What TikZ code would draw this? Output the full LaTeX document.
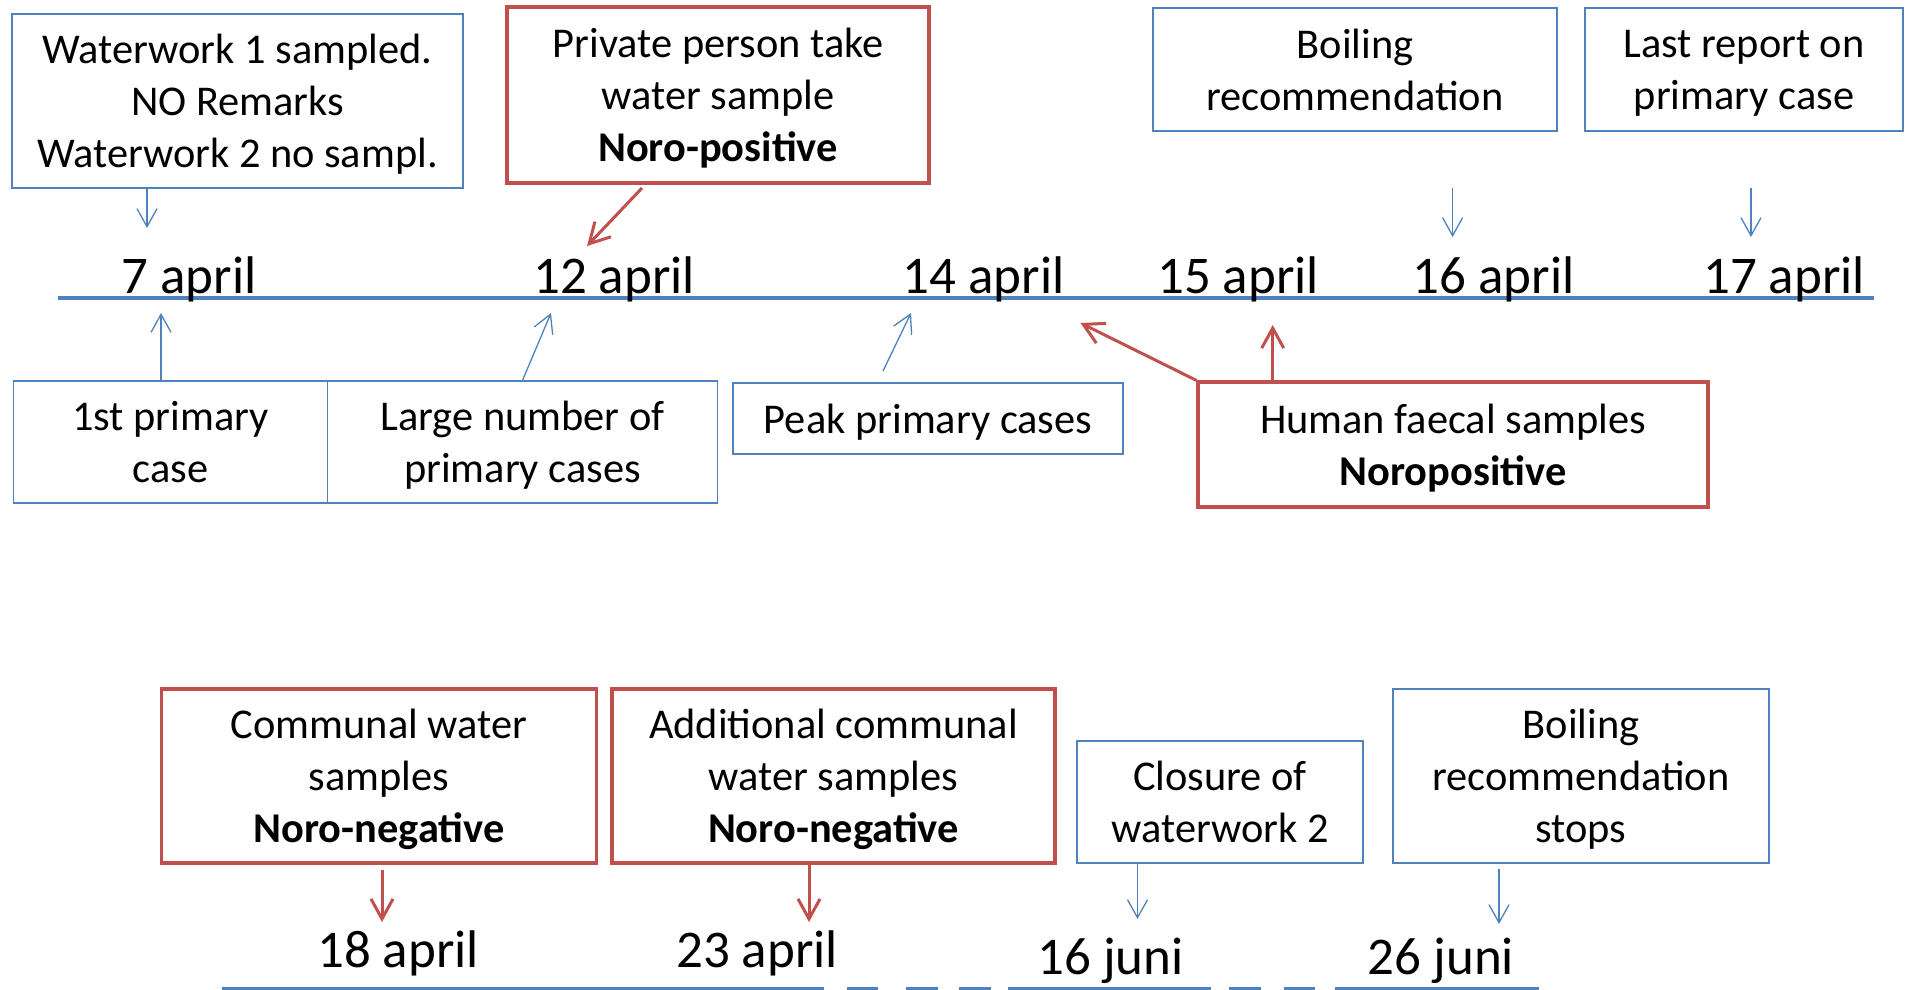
\documentclass[tikz,border=0pt]{standalone}
\usepackage{fontspec}
\setmainfont{Carlito}
\usetikzlibrary{arrows.meta,positioning}
\definecolor{tlblue}{HTML}{4F81BD}
\definecolor{tlred}{HTML}{C0504D}

\begin{document}
\begin{tikzpicture}[x=0.5pt,y=-0.5pt]
\tikzstyle{bluebox}=[draw=tlblue,line width=0.65pt,align=center,inner sep=0pt,text depth=0pt,font=\fontsize{21.2}{26}\selectfont]
\tikzstyle{redbox}=[bluebox,draw=tlred,line width=1.65pt]
\tikzstyle{datum}=[anchor=base,inner sep=0pt,font=\fontsize{26.5}{32}\selectfont]
\tikzstyle{barrow}=[draw=tlblue,line width=0.65pt,-{Straight Barb[length=9pt,width=10pt]}]
\tikzstyle{rarrow}=[draw=tlred,line width=1.5pt,-{Straight Barb[length=10pt,width=11pt]}]
\tikzstyle{tline}=[draw=tlblue,line width=1.75pt]
\useasboundingbox (0,0) rectangle (1906,990);
% timelines
\draw[tline] (58,298) -- (1873.5,298);
\foreach \a/\b in {222/824,847/878,906/938,959/991,1008/1211,1229/1261,1284/1315,1335/1539}
  \draw[tline] (\a,989) -- (\b,989);
% event boxes
\node[bluebox,minimum width=225.5pt,minimum height=87pt] (ww) at (237.5,101) {Waterwork 1 sampled.\\NO Remarks\\Waterwork 2 no sampl.};
\node[redbox,minimum width=211pt,minimum height=88pt] (priv) at (718,95) {Private person take\\water sample\\\textbf{Noro-positive}};
\node[bluebox,minimum width=202pt,minimum height=61.5pt] (boil) at (1355,69.5) {Boiling\\recommendation};
\node[bluebox,minimum width=159pt,minimum height=61.5pt] (last) at (1744,69.5) {Last report on\\primary case};
\node[bluebox,minimum width=157pt,minimum height=61pt] (first) at (170.5,442) {1st primary\\case};
\node[bluebox,minimum width=195pt,minimum height=61pt] (large) at (522.5,442) {Large number of\\primary cases};
\node[bluebox,minimum width=195pt,minimum height=35.5pt] (peak) at (928,418.5) {Peak primary cases};
\node[redbox,minimum width=255pt,minimum height=62.5pt] (human) at (1453,444.5) {Human faecal samples\\\textbf{Noropositive}};
\node[redbox,minimum width=217.5pt,minimum height=87pt] (comm) at (379,776) {Communal water\\samples\\\textbf{Noro-negative}};
\node[redbox,minimum width=221.5pt,minimum height=87pt] (addl) at (833.5,776) {Additional communal\\water samples\\\textbf{Noro-negative}};
\node[bluebox,minimum width=143pt,minimum height=61pt] (clos) at (1220,802) {Closure of\\waterwork 2};
\node[bluebox,minimum width=188pt,minimum height=87pt] (stop) at (1581,776) {Boiling\\recommendation\\stops};
% dates
\node[datum] (d7) at (189,293) {7 april};
\node[datum] (d12) at (614,293) {12 april};
\node[datum] (d14) at (983.5,293) {14 april};
\node[datum] (d15) at (1238,293) {15 april};
\node[datum] (d16) at (1493.5,293) {16 april};
\node[datum] (d17) at (1784,293) {17 april};
\node[datum] (d18) at (398,967) {18 april};
\node[datum] (d23) at (757,967) {23 april};
\node[datum] (j16) at (1110.5,974) {16 juni};
\node[datum] (j26) at (1441,974) {26 juni};
% arrow ends
\coordinate (a7) at (147,228);
\coordinate (s12) at (642,188);
\coordinate (a12) at (587,246);
\coordinate (s16) at (1452.6,188);
\coordinate (a16) at (1452.6,237);
\coordinate (s17) at (1751,188);
\coordinate (a17) at (1751,237);
\coordinate (u7) at (161,313);
\coordinate (u12) at (551,313);
\coordinate (s14) at (883,371);
\coordinate (u14) at (911,313);
\coordinate (r14) at (1080.5,323);
\coordinate (r15) at (1272.7,325);
\coordinate (s18) at (382,870);
\coordinate (a18) at (382,922);
\coordinate (a23) at (809,922);
\coordinate (a16j) at (1137.5,919);
\coordinate (s26j) at (1499,869);
\coordinate (a26j) at (1499,924);
\path (ww.south -| a7) edge[barrow] (a7);
\path (s12) edge[rarrow] (a12);
\path (s16) edge[barrow] (a16);
\path (s17) edge[barrow] (a17);
\path (first.north -| u7) edge[barrow] (u7);
\path (large.north) edge[barrow] (u12);
\path (s14) edge[barrow] (u14);
\path (human.north west) edge[rarrow] (r14);
\path (human.north -| r15) edge[rarrow] (r15);
\path (s18) edge[rarrow] (a18);
\path (addl.south -| a23) edge[rarrow] (a23);
\path (clos.south -| a16j) edge[barrow] (a16j);
\path (s26j) edge[barrow] (a26j);
\end{tikzpicture}
\end{document}
